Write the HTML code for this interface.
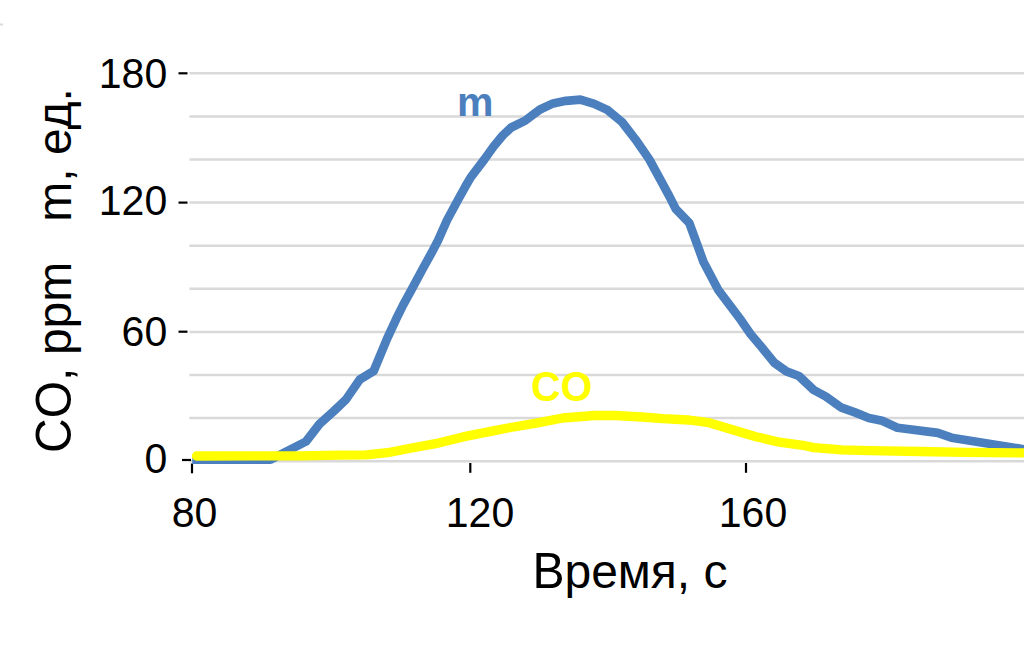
<!DOCTYPE html>
<html><head><meta charset="utf-8"><style>
html,body{margin:0;padding:0;background:#fff;width:1024px;height:647px;overflow:hidden}
svg{display:block}
text{font-family:"Liberation Sans",sans-serif}
</style></head><body>
<svg width="1024" height="647" viewBox="0 0 1024 647">
<rect width="1024" height="647" fill="#fff"/>
<rect x="0" y="23.5" width="3" height="2" fill="#dcdcdc"/>
<g stroke="#d9d9d9" stroke-width="2.5">
<line x1="189.5" y1="73.30" x2="1024" y2="73.30"/>
<line x1="189.5" y1="116.40" x2="1024" y2="116.40"/>
<line x1="189.5" y1="159.50" x2="1024" y2="159.50"/>
<line x1="189.5" y1="202.60" x2="1024" y2="202.60"/>
<line x1="189.5" y1="245.70" x2="1024" y2="245.70"/>
<line x1="189.5" y1="288.80" x2="1024" y2="288.80"/>
<line x1="189.5" y1="331.90" x2="1024" y2="331.90"/>
<line x1="189.5" y1="375.00" x2="1024" y2="375.00"/>
<line x1="189.5" y1="418.10" x2="1024" y2="418.10"/>
<line x1="189.5" y1="461.20" x2="1024" y2="461.20"/>
</g>
<g stroke="#000" stroke-width="2.2">
<line x1="178.5" y1="73.3" x2="187.5" y2="73.3"/>
<line x1="178.5" y1="202.6" x2="187.5" y2="202.6"/>
<line x1="178.5" y1="331.7" x2="187.5" y2="331.7"/>
<line x1="182" y1="460" x2="191" y2="460"/>
<line x1="192" y1="463.5" x2="192" y2="473.3"/>
<line x1="470.3" y1="463" x2="470.3" y2="472.8"/>
<line x1="746" y1="463" x2="746" y2="472.8"/>
</g>
<polyline points="192.3,459.6 270.5,459.7 306.0,441.5 319.5,424.0 333.4,411.5 345.9,399.6 359.8,379.5 373.7,371.0 387.0,338.8 396.3,318.8 403.2,304.9 411.7,289.4 422.5,269.3 431.8,252.4 438.0,240.5 447.0,220.3 457.8,200.2 465.5,186.3 470.9,177.1 484.3,159.5 493.6,146.5 502.8,135.4 511.2,127.5 525.2,120.6 532.6,115.0 540.0,109.5 553.0,103.4 566.0,100.8 580.4,99.7 594.3,103.9 607.3,109.9 622.0,122.0 635.4,139.3 649.3,159.4 660.2,179.4 669.4,196.4 675.8,209.0 689.3,223.1 697.0,244.0 703.4,261.7 718.0,289.6 741.0,320.2 750.7,334.2 761.7,347.2 774.1,362.6 786.4,371.4 798.9,376.0 813.7,390.0 825.8,396.5 840.8,407.3 854.9,412.4 868.8,418.0 882.1,420.8 897.4,427.7 937.8,432.9 951.5,437.7 1024.0,449.3 1034.0,450.9" fill="none" stroke="#4b7fbd" stroke-width="8.7" stroke-linejoin="round" stroke-linecap="butt"/>
<polyline points="196.5,456.0 300.0,455.8 340.0,455.1 366.4,454.8 387.5,452.7 410.3,448.3 438.4,443.1 463.0,436.9 489.4,431.6 510.5,427.5 536.4,423.1 562.7,418.0 594.4,415.5 615.5,415.5 641.8,417.0 662.9,418.7 688.8,420.0 709.0,422.7 732.5,429.7 755.9,436.7 779.4,442.2 802.8,445.3 813.9,447.6 841.7,449.8 869.5,450.7 920.0,451.5 965.7,452.3 1024.0,452.9 1034.0,453.0" fill="none" stroke="#ffff00" stroke-width="9.3" stroke-linejoin="round" stroke-linecap="round"/>
<g font-size="41" fill="#000" text-anchor="end">
<text transform="translate(167.2,88.2) scale(1,1.04)">180</text>
<text transform="translate(167.2,215.2) scale(1,1.04)">120</text>
<text transform="translate(167.2,346.1) scale(1,1.04)">60</text>
<text transform="translate(167.2,472.8) scale(1,1.04)">0</text>
</g>
<g font-size="41" fill="#000" text-anchor="middle">
<text transform="translate(194.5,527.1) scale(1,1.04)">80</text>
<text transform="translate(480,527.1) scale(1,1.04)">120</text>
<text transform="translate(753,527.1) scale(1,1.04)">160</text>
</g>
<text transform="translate(532.46,587.5) scale(1,1.04)" font-size="48">В</text>
<text x="564.48" y="587.5" font-size="48" xml:space="preserve">ремя, с</text>
<text transform="translate(71.2,453) rotate(-90) scale(1,1.05)" font-size="48" xml:space="preserve">CO,</text>
<text transform="translate(71.2,355.1) rotate(-90)" font-size="48" xml:space="preserve">ppm   m, ед.</text>
<text x="457" y="115.8" font-size="41" font-weight="bold" fill="#4b7fbd">m</text>
<text transform="translate(531,401.3) scale(1,1.04)" font-size="41" font-weight="bold" fill="#ffff00">CO</text>
</svg>
</body></html>
